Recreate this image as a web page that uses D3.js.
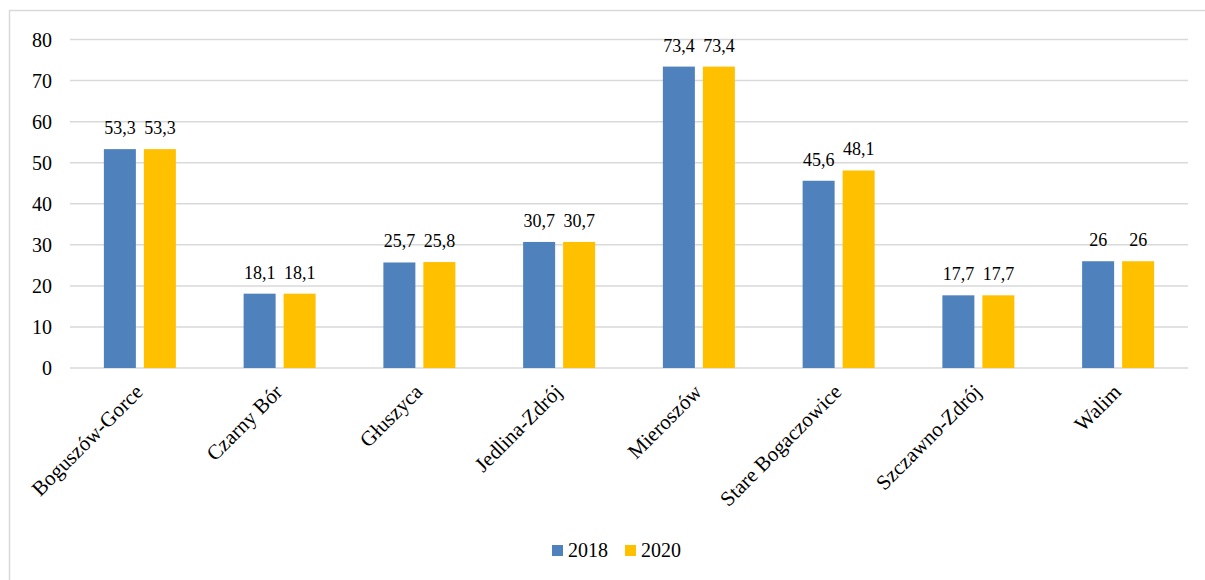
<!DOCTYPE html>
<html><head><meta charset="utf-8">
<script src="https://cdn.jsdelivr.net/npm/d3@7"></script>
<style>body{margin:0;background:#fff} svg text{font-family:"Liberation Serif","Times New Roman",Tinos,"DejaVu Serif",serif;}</style>
</head><body>
<svg id="c" width="1205" height="580"></svg>
<script>
const categories = ["Boguszów-Gorce","Czarny Bór","Głuszyca","Jedlina-Zdrój","Mieroszów","Stare Bogaczowice","Szczawno-Zdrój","Walim"];
const series = ["2018","2020"];
const values2018 = [53.3,18.1,25.7,30.7,73.4,45.6,17.7,26];
const values2020 = [53.3,18.1,25.8,30.7,73.4,48.1,17.7,26];
const yTicks = [0,10,20,30,40,50,60,70,80];
const colors = ["#4F81BD","#FFC000"];

const svg = d3.select("#c");
svg.append("rect").attr("x",9.5).attr("y",10.5).attr("width",1220).attr("height",600)
  .attr("fill","#fff").attr("stroke","#d9d9d9").attr("stroke-width",1.5);

const x = d3.scaleBand().domain(categories).range([70,1188]);
const y = d3.scaleLinear().domain([0,80]).range([368,39.5]);
const x1 = d3.scaleBand().domain(series).range([-36,36]).paddingInner(0.2);

svg.append("g").selectAll("line").data(yTicks).join("line")
  .attr("x1",70).attr("x2",1188).attr("y1",d=>y(d)).attr("y2",d=>y(d))
  .attr("stroke","#d9d9d9").attr("stroke-width",1.5);

svg.append("g").selectAll("text").data(yTicks).join("text")
  .attr("x",52).attr("y",d=>y(d)).attr("dy","0.35em").attr("text-anchor","end")
  .attr("font-size",20).attr("fill","#000").text(d=>d);

const data = [];
categories.forEach((c,i)=>{
  data.push({c, s:"2018", v:values2018[i]});
  data.push({c, s:"2020", v:values2020[i]});
});
const fmt = v => String(v).replace(".",",");

svg.append("g").selectAll("rect").data(data).join("rect")
  .attr("x",d=>x(d.c)+x.bandwidth()/2+x1(d.s))
  .attr("width",x1.bandwidth())
  .attr("y",d=>y(d.v)).attr("height",d=>y(0)-y(d.v))
  .attr("fill",d=>colors[series.indexOf(d.s)]);

svg.append("g").selectAll("text").data(data).join("text")
  .attr("x",d=>x(d.c)+x.bandwidth()/2+x1(d.s)+x1.bandwidth()/2)
  .attr("y",d=>y(d.v)-15).attr("text-anchor","middle")
  .attr("font-size",18).attr("fill","#000").text(d=>fmt(d.v));

svg.append("g").selectAll("text").data(categories).join("text")
  .attr("transform",d=>`translate(${x(d)+x.bandwidth()/2-1},${388}) rotate(-45)`)
  .attr("text-anchor","end").attr("dy","0.35em")
  .attr("font-size",21).attr("fill","#000").text(d=>d);

const lg = svg.append("g");
const lx = [552, 625];
series.forEach((s,i)=>{
  lg.append("rect").attr("x",lx[i]).attr("y",545).attr("width",11).attr("height",11).attr("fill",colors[i]);
  lg.append("text").attr("x",lx[i]+16).attr("y",557).attr("font-size",20)
    .attr("fill","#000").text(s);
});
</script>
</body></html>
